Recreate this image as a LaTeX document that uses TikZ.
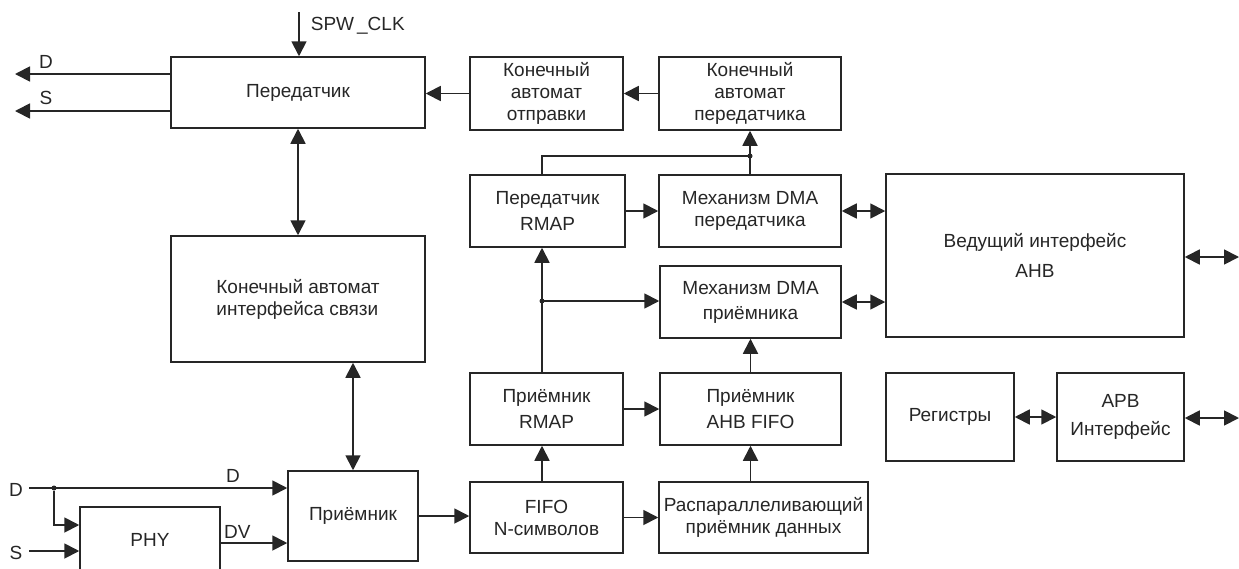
\documentclass[tikz,border=0pt]{standalone}
\usepackage{fontspec}
\setmainfont{Liberation Sans}
\usetikzlibrary{arrows.meta,positioning}

\begin{document}
\begin{tikzpicture}[x=1pt, y=-1pt,
  box/.style={draw=black!85, line width=1.5pt, inner sep=0pt, align=center, text=black!85,
    font=\fontsize{19}{22}\selectfont},
  arrow/.style={-{Triangle[length=15pt,width=15pt]}, line width=1.8pt, draw=black!85},
  both/.style={{Triangle[length=15pt,width=15pt]}-{Triangle[length=15pt,width=15pt]}, line width=1.8pt, draw=black!85},
  lbl/.style={text=black!85, font=\fontsize{19}{22}\selectfont, inner sep=0pt},
  dot/.style={circle, fill=black!85, inner sep=0pt, minimum size=5pt}
]
  \useasboundingbox (0,0) rectangle (1239,568);

  % left column
  \node[box, minimum width=254pt, minimum height=71pt] (tx) at (298,92.5) {Передатчик};
  \node[box, minimum width=254pt, minimum height=126pt, align=left] (linkfsm) at (298,299) {Конечный автомат\\интерфейса связи};
  \node[box, minimum width=130pt, minimum height=90pt] (rx) at (353,516) {Приёмник};
  \node[box, minimum width=140pt, minimum height=66pt] (phy) at (150,540) {PHY};

  % middle columns
  \node[box, minimum width=153pt, minimum height=73pt] (sendfsm) at (546.5,93.5) {Конечный\\автомат\\отправки};
  \node[box, minimum width=182pt, minimum height=73pt] (txfsm) at (750,93.5) {Конечный\\автомат\\передатчика};
  \node[box, minimum width=155pt, minimum height=72pt] (rmaptx) at (547.5,211) {Передатчик\\[4pt]RMAP};
  \node[box, minimum width=182pt, minimum height=72pt] (dmatx) at (750,211) {Механизм DMA\\передатчика};
  \node[box, minimum width=181pt, minimum height=72pt] (dmarx) at (750.5,302) {Механизм DMA\\[3pt]приёмника};
  \node[box, minimum width=153pt, minimum height=72pt] (rmaprx) at (546.5,409) {Приёмник\\[4pt]RMAP};
  \node[box, minimum width=181pt, minimum height=72pt] (ahbfifo) at (750.5,409) {Приёмник\\[4pt]AHB FIFO};
  \node[box, minimum width=153pt, minimum height=71pt] (fifo) at (546.5,517.5) {FIFO\\N-символов};
  \node[box, minimum width=209pt, minimum height=71pt] (deser) at (763.5,517.5) {Распараллеливающий\\приёмник данных};

  % right column
  \node[box, minimum width=298pt, minimum height=163pt] (ahb) at (1035,255.5) {Ведущий интерфейс\\[8pt]АНВ};
  \node[box, minimum width=128pt, minimum height=88pt] (regs) at (950,417) {Регистры};
  \node[box, minimum width=127pt, minimum height=88pt] (apb) at (1120.5,417) {APB\\[6pt]Интерфейс};

  % free ends and junctions
  \coordinate (clk) at (299,12);
  \coordinate (dout) at (15,74);
  \coordinate (sout) at (15,111);
  \coordinate (din) at (29,488);
  \coordinate (sin) at (29,551);
  \coordinate (ahbout) at (1239,257);
  \coordinate (apbout) at (1239,418);
  \coordinate (jtx) at (750,156);
  \coordinate (jrx) at (542,301);
  \node[dot] (jd) at (54,488) {};
  \node[dot] at (jtx) {};
  \node[dot] at (jrx) {};

  % transmitter side
  \draw[arrow] (clk) -- (tx.north -| clk) node[lbl, pos=0.3, right=11pt] {SPW\hspace{3pt}\_CLK};
  \draw[arrow] (tx.west |- dout) -- (dout) node[lbl, pos=0.8, above=5pt] {D};
  \draw[arrow] (tx.west |- sout) -- (sout) node[lbl, pos=0.8, above=5pt] {S};
  \draw[arrow] (sendfsm.west) -- (sendfsm.west -| tx.east);
  \draw[arrow] (txfsm) -- (sendfsm);
  \draw[arrow] (dmatx) -- (txfsm);
  \draw[line width=1.8pt, draw=black!85] (rmaptx.north -| jrx) |- (jtx);
  \draw[arrow] (rmaptx) -- (dmatx);
  \draw[both] (dmatx.east) -- (dmatx.east -| ahb.west);
  \draw[both] (ahb.east |- ahbout) -- (ahbout);

  % receiver side
  \draw[both] (tx) -- (linkfsm);
  \draw[both] (rx.north) -- (rx.north |- linkfsm.south);
  \draw[arrow] (din) -- (din -| rx.west) node[lbl, pos=0.79, above=5pt] {D};
  \node[lbl] at (16,490) {D};
  \draw[arrow] (jd) |- ([yshift=15pt]phy.west);
  \draw[arrow] (sin) -- (sin -| phy.west);
  \node[lbl] at (16,553) {S};
  \draw[arrow] ([yshift=-3pt]phy.east) -- ([yshift=-3pt]phy.east -| rx.west) node[lbl, pos=0.25, above=4pt] {DV};
  \draw[arrow] (rx.east) -- (rx.east -| fifo.west);
  \draw[arrow] (fifo) -- (deser);
  \draw[arrow] (fifo.north -| jrx) -- (rmaprx.south -| jrx);
  \draw[arrow] (deser.north -| ahbfifo) -- (ahbfifo.south);
  \draw[arrow] (rmaprx) -- (ahbfifo);
  \draw[arrow] (ahbfifo) -- (dmarx);
  \draw[arrow] (rmaprx.north -| jrx) -- (rmaptx.south -| jrx);
  \draw[arrow] (jrx) -- (jrx -| dmarx.west);
  \draw[both] (dmarx.east) -- (dmarx.east -| ahb.west);
  \draw[both] (regs) -- (apb);
  \draw[both] (apb.east |- apbout) -- (apbout);
\end{tikzpicture}
\end{document}
